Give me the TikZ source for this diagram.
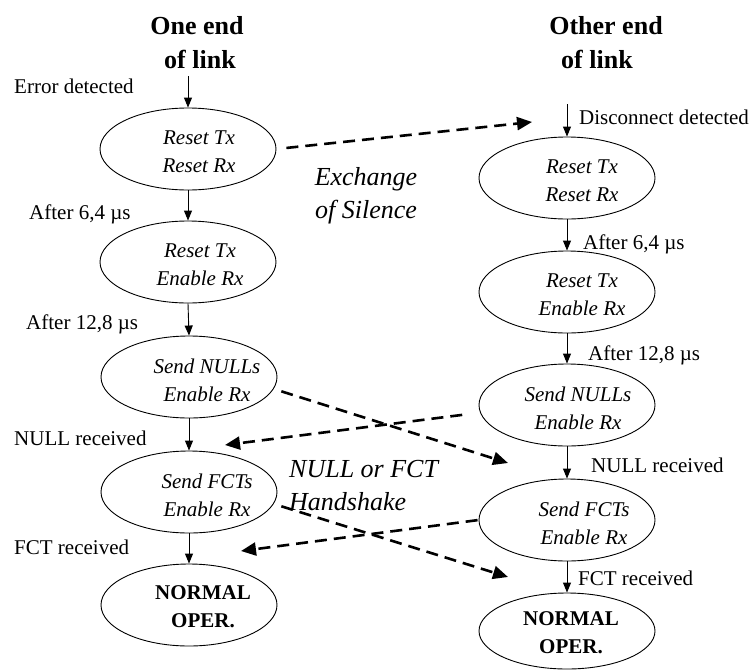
\documentclass[tikz,border=0pt]{standalone}
\usepackage{fontspec}
\setmainfont{Liberation Serif}
\usetikzlibrary{shapes.geometric,arrows.meta}
\begin{document}
\begin{tikzpicture}[x=1pt,y=-1pt,
  state/.style={ellipse,draw,line width=0.9pt,minimum width=176pt,minimum height=82pt,inner sep=0pt},
  stxt/.style={font=\fontsize{21}{28}\selectfont\itshape,align=center,inner sep=0pt},
  btxt/.style={font=\fontsize{21}{28}\selectfont\bfseries,align=center,inner sep=0pt},
  lbl/.style={font=\fontsize{21}{25}\selectfont,anchor=base west,inner sep=0pt},
  head/.style={font=\fontsize{26}{33}\selectfont\bfseries,anchor=base,inner sep=0pt},
  big/.style={font=\fontsize{26}{33}\selectfont\itshape,inner sep=0pt},
  arr/.style={line width=0.9pt,-{Triangle[length=10pt,width=8pt]}},
  darr/.style={line width=2.6pt,dash pattern=on 12pt off 7pt,-{Triangle[length=15pt,width=13pt]}}
]
\useasboundingbox (0,0) rectangle (751,669);

% headings
\node[head] (h1a) at (197,35) {One end};
\node[head] (h1b) at (200,68) {of link};
\node[head] (h2a) at (606,35) {Other end};
\node[head] (h2b) at (597,68) {of link};

% left column
\node[state] (L1) at (188,149) {};
\node[state] (L2) at (188,262) {};
\node[state] (L3) at (189,377) {};
\node[state] (L4) at (189,492) {};
\node[state] (L5) at (189,605) {};
\node[stxt] (L1t) at (199,152) {Reset Tx\\Reset Rx};
\node[stxt] (L2t) at (200,265) {Reset Tx\\Enable Rx};
\node[stxt] (L3t) at (207,380) {Send NULLs\\Enable Rx};
\node[stxt] (L4t) at (207,495) {Send FCTs\\Enable Rx};
\node[btxt] (L5t) at (203,607) {NORMAL\\OPER.};

% right column
\node[state] (R1) at (567,178) {};
\node[state] (R2) at (567,292) {};
\node[state] (R3) at (567,405) {};
\node[state] (R4) at (567,520) {};
\node[state,minimum height=76pt] (R5) at (567,631) {};
\node[stxt] (R1t) at (582,181) {Reset Tx\\Reset Rx};
\node[stxt] (R2t) at (582,295) {Reset Tx\\Enable Rx};
\node[stxt] (R3t) at (578,408) {Send NULLs\\Enable Rx};
\node[stxt] (R4t) at (584,523) {Send FCTs\\Enable Rx};
\node[btxt] (R5t) at (571,633) {NORMAL\\OPER.};

% left labels
\node[lbl] (le1) at (14,93) {Error detected};
\node[lbl] (le2) at (29,219) {After 6,4 µs};
\node[lbl] (le3) at (26,329) {After 12,8 µs};
\node[lbl] (le4) at (14,445) {NULL received};
\node[lbl] (le5) at (14,554) {FCT received};
% right labels
\node[lbl] (re1) at (579,124) {Disconnect detected};
\node[lbl] (re2) at (583,249) {After 6,4 µs};
\node[lbl] (re3) at (588,360) {After 12,8 µs};
\node[lbl] (re4) at (591,472) {NULL received};
\node[lbl] (re5) at (578,585) {FCT received};

% middle texts
\node[big,align=center] (ex) at (366,196) {Exchange\\of Silence};
\node[big,align=left,anchor=west] (hs) at (289,486) {NULL or FCT\\Handshake};

% solid arrows
\coordinate (s1) at (188,76);
\coordinate (s2) at (567,104);
\draw[arr] (s1) -- (L1.north);
\draw[arr] (L1.south) -- (L2.north);
\draw[arr] (L2.south) -- (L3.north);
\draw[arr] (L3.south) -- (L4.north);
\draw[arr] (L4.south) -- (L5.north);
\draw[arr] (s2) -- (R1.north);
\draw[arr] (R1.south) -- (R2.north);
\draw[arr] (R2.south) -- (R3.north);
\draw[arr] (R3.south) -- (R4.north);
\draw[arr] (R4.south) -- (R5.north);

% dashed exchanges
\coordinate (c1) at (532,122);
\coordinate (c2) at (508,463);
\coordinate (c3) at (225,445);
\coordinate (c4) at (508,577);
\coordinate (c5) at (241,551);
\draw[darr,shorten <=10pt] (L1.east) -- (c1);
\draw[darr,shorten <=8pt] (L3.-8) -- (c2);
\draw[darr,shorten <=18pt] (R3.185) -- (c3);
\draw[darr,shorten <=8pt] (L4.-8) -- (c4);
\draw[darr,shorten <=1pt] (R4.west) -- (c5);
\end{tikzpicture}
\end{document}
